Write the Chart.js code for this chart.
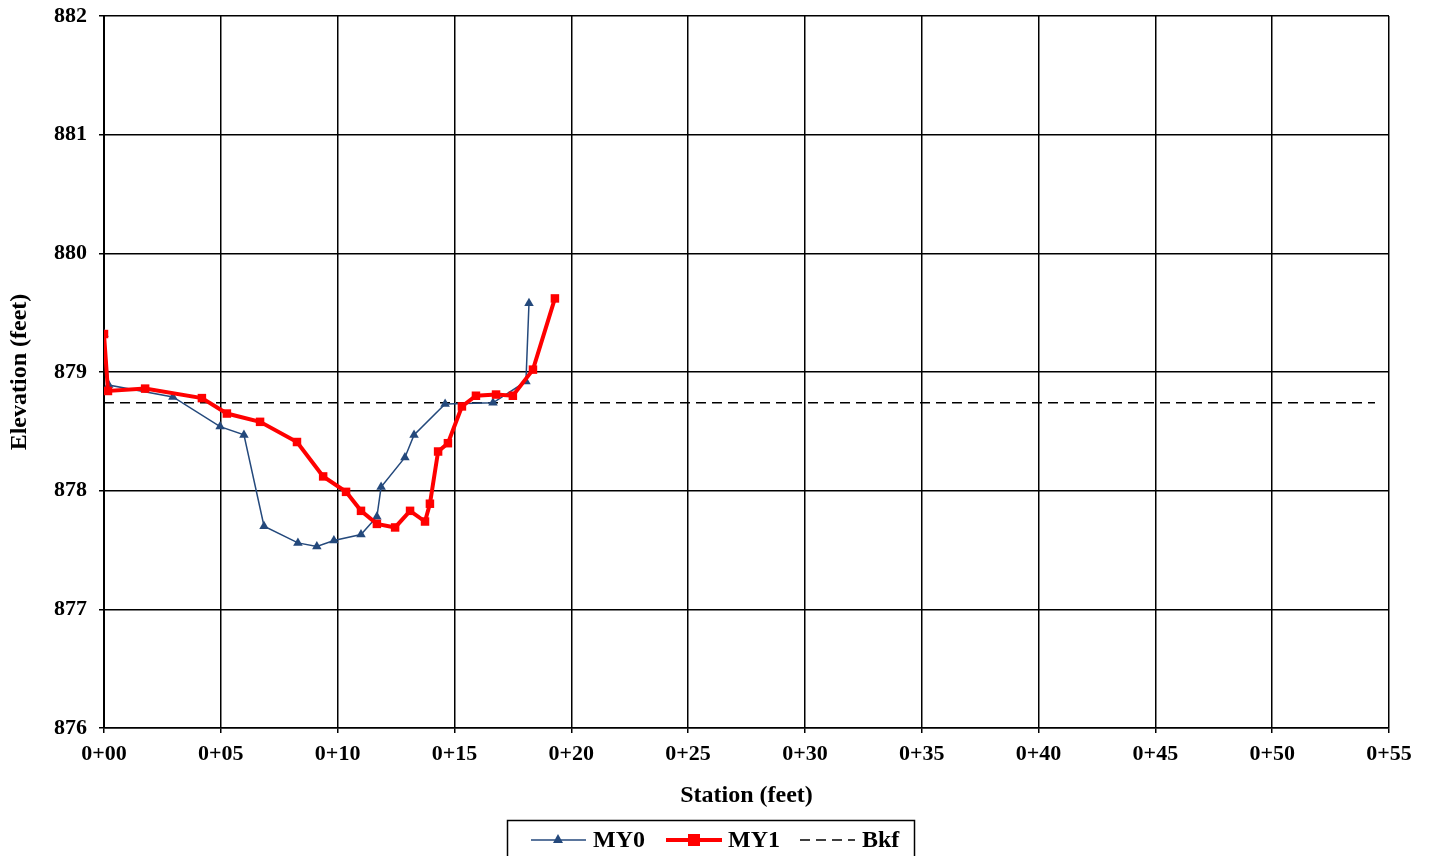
<!DOCTYPE html>
<html>
<head>
<meta charset="utf-8">
<script src="https://cdn.jsdelivr.net/npm/chart.js@4/dist/chart.umd.min.js"></script>
<style>
  html, body { margin: 0; padding: 0; background: #fff; }
  #wrap { width: 1429px; height: 856px; position: relative; }
</style>
</head>
<body>
<div id="wrap"><canvas id="chart"></canvas></div>
<script>
// ─── DADOS ───
const my0Station = [0, 0.2, 2.95, 4.97, 5.99, 6.85, 8.3, 9.11, 9.84, 11.0, 11.68, 11.86, 12.88, 13.27, 14.6, 16.65, 18.06, 18.19];
const my0Elev    = [879.32, 878.89, 878.79, 878.54, 878.47, 877.70, 877.56, 877.53, 877.58, 877.63, 877.78, 878.03, 878.28, 878.47, 878.73, 878.74, 878.92, 879.58];

const my1Station = [0, 0.17, 1.76, 4.19, 5.26, 6.68, 8.26, 9.38, 10.36, 11.0, 11.68, 12.46, 13.1, 13.74, 13.95, 14.3, 14.72, 15.32, 15.92, 16.78, 17.5, 18.36, 19.3];
const my1Elev    = [879.32, 878.84, 878.86, 878.78, 878.65, 878.58, 878.41, 878.12, 877.99, 877.83, 877.72, 877.69, 877.83, 877.74, 877.89, 878.33, 878.40, 878.71, 878.80, 878.81, 878.80, 879.02, 879.62];

const bkfStation = [0, 54.4];
const bkfElev    = [878.74, 878.74];

const seriesNames = ['MY0', 'MY1', 'Bkf'];

const BLUE = '#24497C';
const RED = '#FF0000';
const FONT = "'Liberation Serif', 'Times New Roman', serif";

const toXY = (xs, ys) => xs.map((x, i) => ({ x, y: ys[i] }));

// legenda com moldura, desenhada à mão
const legendBox = {
  id: 'legendBox',
  afterDraw(chart) {
    const ctx = chart.ctx;
    ctx.save();
    ctx.strokeStyle = '#000';
    ctx.lineWidth = 1.5;
    ctx.strokeRect(507.5, 820.5, 407, 60);
    const cy = 840;
    ctx.font = `bold 24px ${FONT}`;
    ctx.fillStyle = '#000';
    ctx.textBaseline = 'middle';
    ctx.textAlign = 'left';

    // MY0
    ctx.strokeStyle = BLUE; ctx.lineWidth = 1.5;
    ctx.beginPath(); ctx.moveTo(531, cy); ctx.lineTo(586, cy); ctx.stroke();
    ctx.fillStyle = BLUE;
    ctx.beginPath(); ctx.moveTo(558, cy - 6); ctx.lineTo(563, cy + 3); ctx.lineTo(553, cy + 3); ctx.closePath(); ctx.fill();
    ctx.fillStyle = '#000';
    ctx.fillText(seriesNames[0], 593, cy + 1);

    // MY1
    ctx.strokeStyle = RED; ctx.lineWidth = 4;
    ctx.beginPath(); ctx.moveTo(666, cy); ctx.lineTo(722, cy); ctx.stroke();
    ctx.fillStyle = RED;
    ctx.fillRect(688, cy - 6, 12, 12);
    ctx.fillStyle = '#000';
    ctx.fillText(seriesNames[1], 728, cy + 1);

    // Bkf
    ctx.strokeStyle = '#000'; ctx.lineWidth = 1.5;
    ctx.setLineDash([10, 6]);
    ctx.beginPath(); ctx.moveTo(800, cy); ctx.lineTo(855, cy); ctx.stroke();
    ctx.setLineDash([]);
    ctx.fillText(seriesNames[2], 862, cy + 1);
    ctx.restore();
  }
};

new Chart(document.getElementById('chart'), {
  type: 'scatter',
  data: {
    datasets: [
      {
        label: seriesNames[0],
        data: toXY(my0Station, my0Elev),
        showLine: true,
        borderColor: BLUE,
        backgroundColor: BLUE,
        borderWidth: 1.5,
        pointStyle: 'triangle',
        pointRadius: 5.5,
        pointBorderWidth: 0,
        order: 2,
      },
      {
        label: seriesNames[1],
        data: toXY(my1Station, my1Elev),
        showLine: true,
        borderColor: RED,
        backgroundColor: RED,
        borderWidth: 4,
        pointStyle: 'rect',
        pointRadius: 6,
        pointBorderWidth: 0,
        order: 1,
      },
      {
        label: seriesNames[2],
        data: toXY(bkfStation, bkfElev),
        showLine: true,
        borderColor: '#000',
        borderWidth: 1.5,
        borderDash: [10, 6],
        pointRadius: 0,
        order: 3,
      }
    ]
  },
  options: {
    responsive: true,
    maintainAspectRatio: false,
    animation: false,
    layout: { padding: { top: 16, right: 40, left: 0, bottom: 0 } },
    plugins: {
      legend: { display: false },
      tooltip: { enabled: false },
    },
    scales: {
      x: {
        type: 'linear',
        min: 0,
        max: 55,
        afterFit: s => { s.height = 128; },
        ticks: {
          stepSize: 5,
          padding: 8,
          color: '#000',
          font: { family: FONT, size: 22, weight: 'bold' },
          callback: v => '0+' + String(v).padStart(2, '0'),
        },
        grid: { color: '#000', lineWidth: 1.5, tickLength: 5 },
        border: { color: '#000', width: 1.5 },
        title: {
          display: true,
          text: 'Station (feet)',
          color: '#000',
          font: { family: FONT, size: 24, weight: 'bold' },
          padding: { top: 0, bottom: 46 },
        },
      },
      y: {
        min: 876,
        max: 882,
        afterFit: s => { s.width = 104; s.paddingTop = 0; s.paddingBottom = 0; },
        ticks: {
          stepSize: 1,
          padding: 12,
          color: '#000',
          font: { family: FONT, size: 22, weight: 'bold', lineHeight: 0.5 },
        },
        grid: { color: '#000', lineWidth: 1.5, tickLength: 5 },
        border: { color: '#000', width: 2 },
        title: {
          display: true,
          text: 'Elevation (feet)',
          color: '#000',
          font: { family: FONT, size: 24, weight: 'bold' },
          padding: { top: 5, bottom: 0 },
        },
      }
    }
  },
  plugins: [legendBox]
});
</script>
</body>
</html>
